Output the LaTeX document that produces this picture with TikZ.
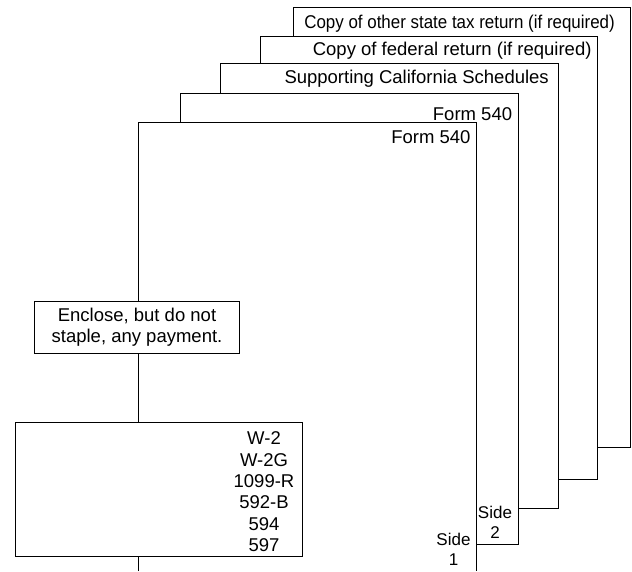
\documentclass[tikz,border=0pt]{standalone}
\usepackage{fontspec}
\usepackage{graphicx}
\setmainfont{Liberation Sans}
\begin{document}
\begin{tikzpicture}[x=1pt,y=-1pt,
  sheet/.style={draw=black,line width=0.9pt,fill=white},
  box/.style={draw=black,line width=0.9pt,fill=white,inner sep=0pt},
  lbl/.style={anchor=base east,inner sep=0pt,font=\fontsize{18.5}{20.5}\selectfont},
  txt/.style={align=center,inner sep=0pt},
  sidelbl/.style={align=center,inner sep=0pt,font=\fontsize{17}{20.5}\selectfont}]
\useasboundingbox (0,0) rectangle (632,571);
\fill[white] (0,0) rectangle (632,571);
% sheets, back to front
\draw[sheet] (293,7.5) rectangle (630,447.3);
\node[lbl] (l5) at (615,28.3) {\scalebox{0.915}[1]{Copy of other state tax return (if required)}};
\draw[sheet] (260.5,36.5) rectangle (597,479.3);
\node[lbl] (l4) at (591.7,55) {Copy of federal return (if required)};
\draw[sheet] (220.5,63.5) rectangle (558.3,508.7);
\node[lbl] (l3) at (549,83.3) {Supporting California Schedules};
\draw[sheet] (180.5,93) rectangle (518,544);
\node[lbl] (l2) at (512.3,120.7) {Form 540};
\node[sidelbl] (side2) at (495,522.1) {Side\\2};
\filldraw[sheet] (138,571) -- (138,122) -- (476.5,122) -- (476.5,571);
\node[lbl] (l1) at (470.7,143.3) {Form 540};
\node[sidelbl] (side1) at (453.5,549.3) {Side\\1};
% attachments
\node[box,minimum width=205.5pt,minimum height=52pt,
      font=\fontsize{18.5}{20.5}\selectfont,align=center] (enclose) at (137,327)
      {Enclose, but do not\\staple, any payment.};
\node[box,minimum width=287pt,minimum height=134.7pt] (w2box) at (158.5,489.35) {};
\node[txt,font=\fontsize{18.5}{21.4}\selectfont] (w2list) at (264,491.9)
      {W-2\\W-2G\\1099-R\\592-B\\594\\597};
\end{tikzpicture}
\end{document}
